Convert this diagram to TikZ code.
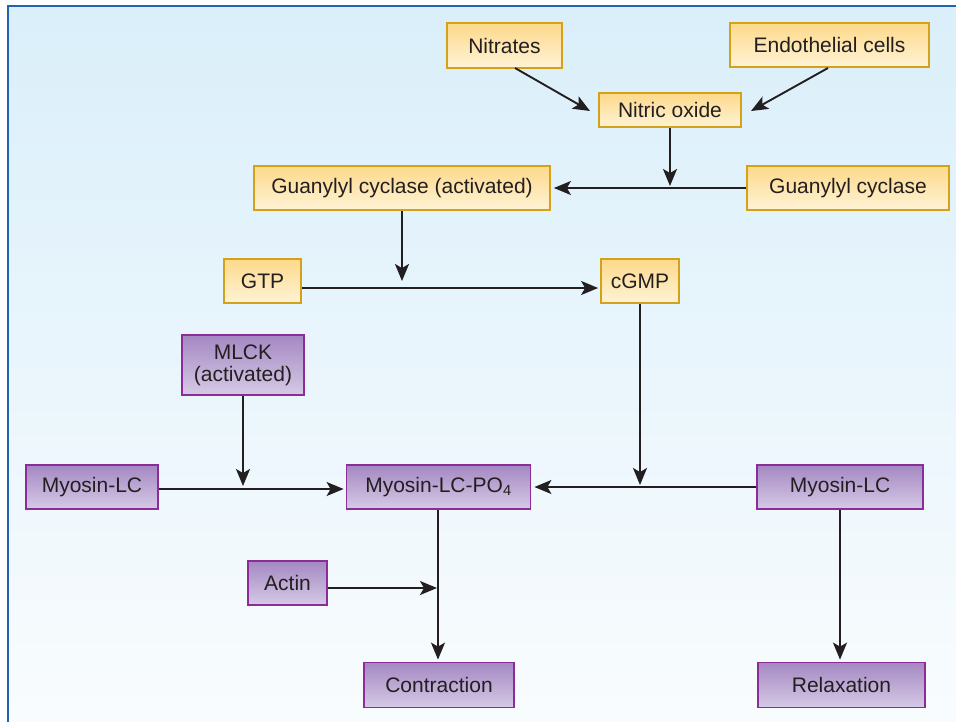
\documentclass[tikz,border=0pt]{standalone}
\usepackage{fontspec}
\setmainfont{Liberation Sans}
\usetikzlibrary{arrows.meta,shadings}
\definecolor{txt}{HTML}{231F20}
\definecolor{ybord}{HTML}{D4A21A}
\definecolor{ytop}{HTML}{FDD98A}
\definecolor{ybot}{HTML}{FFF3D6}
\definecolor{pbord}{HTML}{8B2C98}
\definecolor{ptop}{HTML}{A488C2}
\definecolor{pbot}{HTML}{D6CAE6}
\definecolor{frame}{HTML}{1F63B5}
\definecolor{bgtop}{HTML}{DAEFFA}
\definecolor{bgbot}{HTML}{F9FCFE}
\tikzset{
  ybox/.style={draw=ybord, line width=1.8pt, top color=ytop, bottom color=ybot, inner sep=0pt, text=txt, align=center, font=\fontsize{21}{25}\selectfont},
  pbox/.style={draw=pbord, line width=1.8pt, top color=ptop, bottom color=pbot, inner sep=0pt, text=txt, align=center, font=\fontsize{21}{25}\selectfont},
  conn/.style={line width=1.9pt, draw=txt, -{Stealth[length=17pt,width=14pt,inset=4pt]}},
  sz/.style 2 args={minimum width=#1pt, minimum height=#2pt}
}
\begin{document}
\begin{tikzpicture}[x=1pt,y=-1pt]
\useasboundingbox (0,0) rectangle (956,721);
\shade[top color=bgtop, bottom color=bgbot] (8,6) rectangle (960,725);
\draw[frame, line width=2.2pt] (8,730) -- (8,6) -- (962,6);

\node[ybox, sz={115}{45}] (nit) at (504.5,45.5) {Nitrates};
\node[ybox, sz={199}{44}] (endo) at (829.5,45) {Endothelial cells};
\node[ybox, sz={142}{34}] (no) at (670,110) {Nitric oxide};
\node[ybox, sz={202}{44}] (gc) at (848,188) {Guanylyl cyclase};
\node[ybox, sz={296}{44}] (gca) at (402,188) {Guanylyl cyclase (activated)};
\node[ybox, sz={77}{44}] (gtp) at (262.5,281) {GTP};
\node[ybox, sz={78}{44}] (cgmp) at (640,281) {cGMP};

\node[pbox, sz={122}{60}] (mlck) at (243,365) {MLCK\\[-3pt](activated)};
\node[pbox, sz={132}{44}] (mlc1) at (92,487) {Myosin-LC};
\node[pbox, sz={184}{44}] (po4) at (438.5,487) {Myosin-LC-PO\textsubscript{4}};
\node[pbox, sz={166}{44}] (mlc2) at (840,487) {Myosin-LC};
\node[pbox, sz={79}{44}] (actin) at (287.5,583) {Actin};
\node[pbox, sz={150}{45}] (contr) at (439,685) {Contraction};
\node[pbox, sz={167}{45}] (relax) at (841.5,685) {Relaxation};

% coordinates
\coordinate (nitS) at (515,68);
\coordinate (noW) at (590,111);
\coordinate (endoS) at (828,68);
\coordinate (noE) at (751,111);
\coordinate (j1) at (670,186);
\coordinate (j2) at (402,281);
\coordinate (j3) at (640,485);
\coordinate (j4) at (243,486);
\coordinate (j5) at (437,588);

\draw[conn] (nitS) -- (noW);
\draw[conn] (endoS) -- (noE);
\draw[conn] (no.south) -- (j1);
\draw[conn, shorten >=3pt] (gc.west) -- (gca.east);
\draw[conn] (gca.south) -- (j2);
\draw[conn, shorten >=2pt] (gtp.east |- 0,288) -- (cgmp.west |- 0,288);
\draw[conn] (cgmp.south) -- (j3);
\draw[conn] (mlck.south) -- (j4);
\draw[conn, shorten >=2pt] (mlc1.east |- 0,489) -- (po4.west |- 0,489);
\draw[conn, shorten >=3pt] (mlc2.west) -- (po4.east);
\draw[conn, shorten >=2pt] (po4.south -| 438,0) -- (contr.north -| 438,0);
\draw[conn] (actin.east |- 0,588) -- (j5);
\draw[conn, shorten >=2pt] (mlc2.south) -- (relax.north -| mlc2.south);
\end{tikzpicture}
\end{document}
